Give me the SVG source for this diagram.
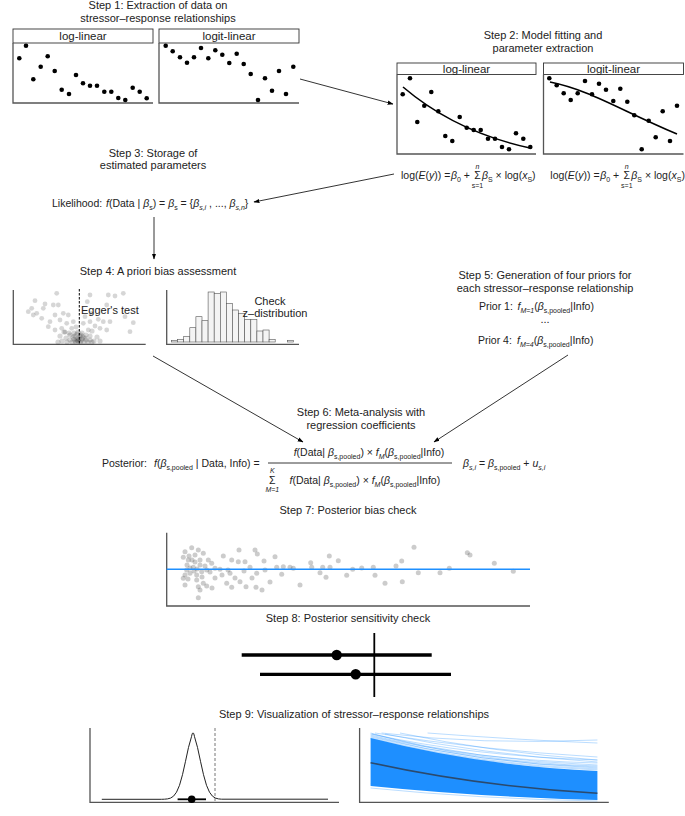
<svg xmlns="http://www.w3.org/2000/svg" width="685" height="816" viewBox="0 0 685 816">
<style>
text{font-family:"Liberation Sans",Arial,sans-serif;fill:#222;}
.t{font-size:11px;text-anchor:middle;}
.h{font-size:11.5px;text-anchor:middle;}
.f{font-size:10.5px;}
.i{font-style:italic;}
.sub{font-size:7px;}
.sm{font-size:7px;text-anchor:middle;}
.ax{stroke:#555;stroke-width:1.3;fill:none;}
.hdr{fill:#fff;stroke:#333;stroke-width:0.9;}
.dot{fill:#000;}
.fit{fill:none;stroke:#000;stroke-width:1.6;}
.con{stroke:#000;stroke-width:0.8;fill:none;marker-end:url(#ah);}
.g1{fill:#8a8a8a;fill-opacity:0.35;}
.g2{fill:#000;fill-opacity:0.16;}
.g7{fill:#555;fill-opacity:0.3;}
.bar{fill:#f4f4f4;stroke:#555;stroke-width:0.6;}
.bl{fill:none;stroke:#1E8FFF;stroke-width:1;stroke-opacity:0.3;}
</style>
<defs>
<marker id="ah" viewBox="0 0 10 10" refX="9" refY="5" markerWidth="6" markerHeight="6" orient="auto" markerUnits="userSpaceOnUse">
<path d="M0,1.5 L10,5 L0,8.5 Z" fill="#000"/>
</marker>
</defs>
<rect width="685" height="816" fill="#fff"/>

<g id="step1">
<text class="t" x="158" y="9">Step 1: Extraction of data on</text>
<text class="t" x="158" y="21.5">stressor–response relationships</text>
<rect class="hdr" x="13" y="29" width="140" height="14"/>
<text class="h" x="83" y="40">log-linear</text>
<path class="ax" d="M13,43 V103 H153"/>
<rect class="hdr" x="159" y="29" width="140" height="14"/>
<text class="h" x="229" y="40">logit-linear</text>
<path class="ax" d="M159,43 V103 H299"/>
<g class="dot">
<circle cx="19.3" cy="58.3" r="2.3"/><circle cx="26" cy="45.7" r="2.3"/><circle cx="33.3" cy="79.3" r="2.3"/><circle cx="40.7" cy="66.7" r="2.3"/><circle cx="47.7" cy="56.3" r="2.3"/><circle cx="54.7" cy="71" r="2.3"/><circle cx="61.7" cy="89.7" r="2.3"/><circle cx="69" cy="94" r="2.3"/><circle cx="76" cy="75" r="2.3"/><circle cx="83" cy="83.3" r="2.3"/><circle cx="90" cy="85.7" r="2.3"/><circle cx="97" cy="85.7" r="2.3"/><circle cx="104.3" cy="91.7" r="2.3"/><circle cx="111.3" cy="91.7" r="2.3"/><circle cx="118.3" cy="98" r="2.3"/><circle cx="125.3" cy="100" r="2.3"/><circle cx="132.7" cy="87.7" r="2.3"/><circle cx="139.7" cy="91.7" r="2.3"/><circle cx="146.7" cy="98.3" r="2.3"/>
<circle cx="165.7" cy="45.7" r="2.3"/><circle cx="172.7" cy="51.3" r="2.3"/><circle cx="180" cy="57.3" r="2.3"/><circle cx="187" cy="62.7" r="2.3"/><circle cx="194" cy="57.3" r="2.3"/><circle cx="201" cy="48" r="2.3"/><circle cx="208.3" cy="58.3" r="2.3"/><circle cx="215.3" cy="50.3" r="2.3"/><circle cx="222.3" cy="54.7" r="2.3"/><circle cx="229.3" cy="63" r="2.3"/><circle cx="236.7" cy="53.7" r="2.3"/><circle cx="243.7" cy="64" r="2.3"/><circle cx="250.7" cy="74" r="2.3"/><circle cx="258" cy="100" r="2.3"/><circle cx="265" cy="78.3" r="2.3"/><circle cx="272" cy="90.7" r="2.3"/><circle cx="279" cy="71" r="2.3"/><circle cx="286" cy="94" r="2.3"/><circle cx="293.3" cy="66.7" r="2.3"/>
</g>
</g>

<g id="step2">
<text class="t" x="543" y="38.5">Step 2: Model fitting and</text>
<text class="t" x="543" y="52">parameter extraction</text>
<rect class="hdr" x="397" y="63" width="139" height="11.5"/>
<text class="h" x="466.5" y="72.5">log-linear</text>
<path class="ax" d="M397,74.5 V154 H536"/>
<rect class="hdr" x="543.5" y="63" width="140" height="11.5"/>
<text class="h" x="613.5" y="72.5">logit-linear</text>
<path class="ax" d="M543.5,74.5 V154 H683.5"/>
<g class="dot">
<circle cx="402.7" cy="94.3" r="2.3"/><circle cx="410" cy="78.3" r="2.3"/><circle cx="417.3" cy="122" r="2.3"/><circle cx="424.3" cy="105.7" r="2.3"/><circle cx="431.3" cy="92" r="2.3"/><circle cx="438.3" cy="111.3" r="2.3"/><circle cx="445.3" cy="136" r="2.3"/><circle cx="452.3" cy="141" r="2.3"/><circle cx="459.7" cy="117" r="2.3"/><circle cx="466.7" cy="127.7" r="2.3"/><circle cx="473.7" cy="130" r="2.3"/><circle cx="480.7" cy="130" r="2.3"/><circle cx="488" cy="138.7" r="2.3"/><circle cx="495" cy="138.7" r="2.3"/><circle cx="502" cy="147" r="2.3"/><circle cx="509" cy="149.3" r="2.3"/><circle cx="516" cy="133.3" r="2.3"/><circle cx="523.3" cy="138.7" r="2.3"/><circle cx="530.3" cy="147" r="2.3"/>
<circle cx="549.3" cy="78.3" r="2.3"/><circle cx="556.7" cy="85.3" r="2.3"/><circle cx="563.7" cy="93.3" r="2.3"/><circle cx="570.7" cy="100" r="2.3"/><circle cx="577.7" cy="93.3" r="2.3"/><circle cx="585" cy="81" r="2.3"/><circle cx="592" cy="94.3" r="2.3"/><circle cx="599" cy="83.7" r="2.3"/><circle cx="606" cy="89.7" r="2.3"/><circle cx="613.3" cy="101" r="2.3"/><circle cx="620.3" cy="88.7" r="2.3"/><circle cx="627.3" cy="101.7" r="2.3"/><circle cx="634.3" cy="115.3" r="2.3"/><circle cx="641.7" cy="149.3" r="2.3"/><circle cx="648.7" cy="120.7" r="2.3"/><circle cx="655.7" cy="137.3" r="2.3"/><circle cx="662.7" cy="111.3" r="2.3"/><circle cx="670" cy="141" r="2.3"/><circle cx="677" cy="105.7" r="2.3"/>
</g>
<path class="fit" d="M403,87 C430,110 470,135 530,148"/>
<path class="fit" d="M550,82 C590,90 620,110 677,134"/>
<text class="f" x="401" y="179">log(<tspan class="i">E</tspan>(<tspan class="i">y</tspan>)) =</text>
<text class="f" x="451" y="179"><tspan class="i">β</tspan><tspan class="sub" dy="2.5">0</tspan><tspan dy="-2.5"> +</tspan></text>
<text class="f" x="477.5" y="179" text-anchor="middle">Σ</text>
<text class="sm i" x="477.5" y="169">n</text>
<text class="sm" x="477.5" y="188">s=1</text>
<text class="f" x="482" y="179"><tspan class="i">β</tspan><tspan class="sub" dy="2.5">S</tspan><tspan dy="-2.5"> × log(</tspan><tspan class="i">x</tspan><tspan class="sub" dy="2.5">S</tspan><tspan dy="-2.5">)</tspan></text>
<text class="f" x="550.3" y="179">log(<tspan class="i">E</tspan>(<tspan class="i">y</tspan>)) =</text>
<text class="f" x="600.3" y="179"><tspan class="i">β</tspan><tspan class="sub" dy="2.5">0</tspan><tspan dy="-2.5"> +</tspan></text>
<text class="f" x="626.8" y="179" text-anchor="middle">Σ</text>
<text class="sm i" x="626.8" y="169">n</text>
<text class="sm" x="626.8" y="188">s=1</text>
<text class="f" x="631.3" y="179"><tspan class="i">β</tspan><tspan class="sub" dy="2.5">S</tspan><tspan dy="-2.5"> × log(</tspan><tspan class="i">x</tspan><tspan class="sub" dy="2.5">S</tspan><tspan dy="-2.5">)</tspan></text>
</g>

<g id="step3">
<text class="t" x="153" y="157">Step 3: Storage of</text>
<text class="t" x="153" y="169">estimated parameters</text>
<text class="f" x="52" y="207">Likelihood:</text>
<text class="f" x="106" y="207"><tspan class="i">f</tspan>(Data | <tspan class="i">β</tspan><tspan class="sub" dy="2.5">s</tspan><tspan dy="-2.5">) = </tspan><tspan class="i">β</tspan><tspan class="sub" dy="2.5">s</tspan><tspan dy="-2.5"> = {</tspan><tspan class="i">β</tspan><tspan class="sub i" dy="2.5">s,i</tspan><tspan dy="-2.5"> , ..., </tspan><tspan class="i">β</tspan><tspan class="sub i" dy="2.5">s,n</tspan><tspan dy="-2.5">}</tspan></text>
</g>

<g id="step4">
<text class="t" x="158" y="274.5">Step 4: A priori bias assessment</text>
<path class="ax" d="M13.3,290 V344.3 H145.7"/>
<g class="g1">
<circle cx="56.7" cy="293.3" r="2.4"/><circle cx="35" cy="300.7" r="2.4"/><circle cx="45" cy="304" r="2.4"/><circle cx="53.3" cy="305" r="2.4"/><circle cx="31.7" cy="308.3" r="2.4"/><circle cx="28.3" cy="311.7" r="2.4"/><circle cx="43.3" cy="308.3" r="2.4"/><circle cx="58.3" cy="305" r="2.4"/><circle cx="33.3" cy="315" r="2.4"/><circle cx="41.7" cy="318.3" r="2.4"/><circle cx="36.7" cy="313.3" r="2.4"/><circle cx="63.3" cy="313.3" r="2.4"/><circle cx="55" cy="315" r="2.4"/><circle cx="68.3" cy="315" r="2.4"/><circle cx="50" cy="321.7" r="2.4"/><circle cx="60" cy="320" r="2.4"/><circle cx="66.7" cy="323.3" r="2.4"/><circle cx="73.3" cy="321.7" r="2.4"/><circle cx="71.7" cy="328.3" r="2.4"/><circle cx="61.7" cy="328.3" r="2.4"/><circle cx="55" cy="330" r="2.4"/><circle cx="48.3" cy="326.7" r="2.4"/><circle cx="90" cy="295" r="2.4"/><circle cx="108.3" cy="295" r="2.4"/><circle cx="115" cy="296" r="2.4"/><circle cx="123.3" cy="293.3" r="2.4"/><circle cx="87.3" cy="301.7" r="2.4"/><circle cx="106.7" cy="305" r="2.4"/><circle cx="91.7" cy="313.3" r="2.4"/><circle cx="85" cy="316.7" r="2.4"/><circle cx="83.3" cy="323.3" r="2.4"/><circle cx="90" cy="321.7" r="2.4"/><circle cx="98.3" cy="319.3" r="2.4"/><circle cx="103.3" cy="321.7" r="2.4"/><circle cx="110" cy="321.7" r="2.4"/><circle cx="100" cy="328.3" r="2.4"/><circle cx="106.7" cy="330" r="2.4"/><circle cx="88.3" cy="330" r="2.4"/><circle cx="125" cy="316.7" r="2.4"/><circle cx="133.3" cy="322.7" r="2.4"/><circle cx="130" cy="331.7" r="2.4"/><circle cx="65" cy="332" r="2.4"/><circle cx="95" cy="326" r="2.4"/><circle cx="76" cy="327" r="2.4"/>
</g>
<g class="g2">
<circle cx="70" cy="335" r="2.6"/><circle cx="74" cy="333" r="2.6"/><circle cx="78" cy="332" r="2.6"/><circle cx="82" cy="333" r="2.6"/><circle cx="86" cy="335" r="2.6"/><circle cx="90" cy="336" r="2.6"/><circle cx="66" cy="338" r="2.6"/><circle cx="70" cy="340" r="2.6"/><circle cx="74" cy="339" r="2.6"/><circle cx="78" cy="338" r="2.6"/><circle cx="82" cy="339" r="2.6"/><circle cx="86" cy="340" r="2.6"/><circle cx="90" cy="340" r="2.6"/><circle cx="94" cy="341" r="2.6"/><circle cx="62" cy="341" r="2.6"/><circle cx="67" cy="342" r="2.6"/><circle cx="72" cy="342" r="2.6"/><circle cx="76" cy="342" r="2.6"/><circle cx="80" cy="342" r="2.6"/><circle cx="84" cy="342" r="2.6"/><circle cx="88" cy="342" r="2.6"/><circle cx="92" cy="342" r="2.6"/><circle cx="75" cy="336" r="2.6"/><circle cx="80" cy="336" r="2.6"/><circle cx="78" cy="341" r="2.6"/><circle cx="73" cy="337" r="2.6"/><circle cx="83" cy="337" r="2.6"/><circle cx="77" cy="334" r="2.6"/><circle cx="81" cy="335" r="2.6"/><circle cx="85" cy="338" r="2.6"/><circle cx="69" cy="333" r="2.6"/><circle cx="92" cy="331" r="2.6"/><circle cx="64" cy="332" r="2.6"/><circle cx="97" cy="337" r="2.6"/><circle cx="60" cy="336" r="2.6"/><circle cx="100" cy="341" r="2.6"/><circle cx="58" cy="342" r="2.6"/><circle cx="77" cy="340" r="2.6"/><circle cx="79" cy="339" r="2.6"/><circle cx="81" cy="341" r="2.6"/><circle cx="75" cy="341" r="2.6"/>
</g>
<line x1="79.3" y1="289" x2="79.3" y2="344" stroke="#000" stroke-width="1" stroke-dasharray="2.5,1.5"/>
<text x="81" y="314" style="font-size:11px">Egger's test</text>
<path class="ax" d="M166.7,290 V344.3 H299"/>
<g>
<rect class="bar" x="171.5" y="340.3" width="6.1" height="1.7"/>
<rect class="bar" x="177.6" y="339.3" width="6.1" height="2.7"/>
<rect class="bar" x="183.7" y="336.3" width="6.1" height="5.7"/>
<rect class="bar" x="189.8" y="327.7" width="6.1" height="14.3"/>
<rect class="bar" x="195.9" y="316.7" width="6.1" height="25.3"/>
<rect class="bar" x="202" y="320.7" width="6.1" height="21.3"/>
<rect class="bar" x="208.1" y="292" width="6.1" height="50"/>
<rect class="bar" x="214.2" y="293.3" width="6.1" height="48.7"/>
<rect class="bar" x="220.3" y="292" width="6.1" height="50"/>
<rect class="bar" x="226.4" y="303.3" width="6.1" height="38.7"/>
<rect class="bar" x="232.5" y="310" width="6.1" height="32"/>
<rect class="bar" x="238.6" y="313.3" width="6.1" height="28.7"/>
<rect class="bar" x="244.7" y="319.3" width="6.1" height="22.7"/>
<rect class="bar" x="250.8" y="319.3" width="6.1" height="22.7"/>
<rect class="bar" x="256.9" y="331" width="6.1" height="11"/>
<rect class="bar" x="263" y="330" width="6.1" height="12"/>
<rect class="bar" x="269.1" y="339.3" width="6.1" height="2.7"/>
<rect class="bar" x="287.4" y="340.3" width="6.1" height="1.7"/>
</g>
<text class="t" x="270" y="304.5">Check</text>
<text class="t" x="275" y="317">z–distribution</text>
</g>

<g id="step5">
<text class="t" x="545" y="279">Step 5: Generation of four priors for</text>
<text class="t" x="545" y="292">each stressor–response relationship</text>
<text class="f" x="479" y="310">Prior 1:</text>
<text class="f" x="517.5" y="310"><tspan class="i">f</tspan><tspan class="sub i" dy="2.5">M=1</tspan><tspan dy="-2.5">(</tspan><tspan class="i">β</tspan><tspan class="sub" dy="2.5">s,pooled</tspan><tspan dy="-2.5">|Info)</tspan></text>
<text class="t" x="545" y="323">...</text>
<text class="f" x="478" y="344">Prior 4:</text>
<text class="f" x="517" y="344"><tspan class="i">f</tspan><tspan class="sub i" dy="2.5">M=4</tspan><tspan dy="-2.5">(</tspan><tspan class="i">β</tspan><tspan class="sub" dy="2.5">s,pooled</tspan><tspan dy="-2.5">|Info)</tspan></text>
</g>

<g id="step6">
<text class="t" x="361" y="416">Step 6: Meta-analysis with</text>
<text class="t" x="361" y="428.5">regression coefficients</text>
<text class="f" x="102" y="467">Posterior:</text>
<text class="f" x="154" y="467"><tspan class="i">f</tspan>(<tspan class="i">β</tspan><tspan class="sub" dy="2.5">s,pooled</tspan><tspan dy="-2.5"> | Data, Info) =</tspan></text>
<text class="f" x="369" y="456" text-anchor="middle"><tspan class="i">f</tspan>(Data| <tspan class="i">β</tspan><tspan class="sub" dy="2.5">s,pooled</tspan><tspan dy="-2.5">) × </tspan><tspan class="i">f</tspan><tspan class="sub i" dy="2.5">M</tspan><tspan dy="-2.5">(</tspan><tspan class="i">β</tspan><tspan class="sub" dy="2.5">s,pooled</tspan><tspan dy="-2.5">|Info)</tspan></text>
<line x1="268" y1="463" x2="452" y2="463" stroke="#222" stroke-width="0.9"/>
<text class="f" x="272.3" y="484" text-anchor="middle">Σ</text>
<text class="sm i" x="272.3" y="473">K</text>
<text class="sm i" x="272.3" y="492">M=1</text>
<text class="f" x="289.5" y="484"><tspan class="i">f</tspan>(Data| <tspan class="i">β</tspan><tspan class="sub" dy="2.5">s,pooled</tspan><tspan dy="-2.5">) × </tspan><tspan class="i">f</tspan><tspan class="sub i" dy="2.5">M</tspan><tspan dy="-2.5">(</tspan><tspan class="i">β</tspan><tspan class="sub" dy="2.5">s,pooled</tspan><tspan dy="-2.5">|Info)</tspan></text>
<text class="f" x="463" y="467"><tspan class="i">β</tspan><tspan class="sub i" dy="2.5">s,i</tspan><tspan dy="-2.5"> = </tspan><tspan class="i">β</tspan><tspan class="sub" dy="2.5">s,pooled</tspan><tspan dy="-2.5"> + </tspan><tspan class="i">u</tspan><tspan class="sub i" dy="2.5">s,i</tspan></text>
</g>

<g id="step7">
<text class="t" x="348" y="514">Step 7: Posterior bias check</text>
<g class="g7">
<circle cx="191.7" cy="547.7" r="2.5"/><circle cx="185" cy="551.7" r="2.5"/><circle cx="183.3" cy="557.3" r="2.5"/><circle cx="188.3" cy="560" r="2.5"/><circle cx="195" cy="555" r="2.5"/><circle cx="198.3" cy="550" r="2.5"/><circle cx="203.3" cy="553.3" r="2.5"/><circle cx="208.3" cy="560" r="2.5"/><circle cx="211.7" cy="563.3" r="2.5"/><circle cx="200" cy="565" r="2.5"/><circle cx="193.3" cy="567.3" r="2.5"/><circle cx="186.7" cy="570" r="2.5"/><circle cx="190" cy="573.3" r="2.5"/><circle cx="196.7" cy="575" r="2.5"/><circle cx="201.7" cy="571.7" r="2.5"/><circle cx="206.7" cy="570" r="2.5"/><circle cx="215" cy="568.3" r="2.5"/><circle cx="220" cy="569.3" r="2.5"/><circle cx="183.3" cy="578.3" r="2.5"/><circle cx="196.7" cy="580" r="2.5"/><circle cx="203.3" cy="583.3" r="2.5"/><circle cx="185" cy="585" r="2.5"/><circle cx="198.3" cy="586.7" r="2.5"/><circle cx="206.7" cy="586" r="2.5"/><circle cx="198.3" cy="597.7" r="2.5"/><circle cx="223.3" cy="556" r="2.5"/><circle cx="231.7" cy="560" r="2.5"/><circle cx="239" cy="550" r="2.5"/><circle cx="238.3" cy="561.7" r="2.5"/><circle cx="245" cy="561.7" r="2.5"/><circle cx="230" cy="573.3" r="2.5"/><circle cx="226.7" cy="583.3" r="2.5"/><circle cx="231.7" cy="587.3" r="2.5"/><circle cx="240" cy="581.7" r="2.5"/><circle cx="246" cy="586.7" r="2.5"/><circle cx="255" cy="550" r="2.5"/><circle cx="257.3" cy="554" r="2.5"/><circle cx="250" cy="567.3" r="2.5"/><circle cx="256.7" cy="573.3" r="2.5"/><circle cx="256" cy="587.3" r="2.5"/><circle cx="264" cy="561" r="2.5"/><circle cx="275" cy="556.7" r="2.5"/><circle cx="276.7" cy="567.3" r="2.5"/><circle cx="281.7" cy="574.3" r="2.5"/><circle cx="283.3" cy="566.7" r="2.5"/><circle cx="290" cy="567.3" r="2.5"/><circle cx="293.3" cy="568.3" r="2.5"/><circle cx="300" cy="585" r="2.5"/><circle cx="310.7" cy="562.7" r="2.5"/><circle cx="311.7" cy="567.3" r="2.5"/><circle cx="320" cy="572.7" r="2.5"/><circle cx="322.7" cy="567.3" r="2.5"/><circle cx="326" cy="577.3" r="2.5"/><circle cx="329.3" cy="556" r="2.5"/><circle cx="330" cy="567.3" r="2.5"/><circle cx="338.3" cy="560.7" r="2.5"/><circle cx="346.7" cy="575.3" r="2.5"/><circle cx="352.7" cy="569.3" r="2.5"/><circle cx="361.7" cy="568" r="2.5"/><circle cx="373.3" cy="567.3" r="2.5"/><circle cx="375" cy="575.3" r="2.5"/><circle cx="385" cy="583.3" r="2.5"/><circle cx="396" cy="566" r="2.5"/><circle cx="401.7" cy="561" r="2.5"/><circle cx="402.3" cy="581.7" r="2.5"/><circle cx="414" cy="547.3" r="2.5"/><circle cx="418.3" cy="572.7" r="2.5"/><circle cx="440" cy="572.7" r="2.5"/><circle cx="449.3" cy="568.3" r="2.5"/><circle cx="467.3" cy="552.7" r="2.5"/><circle cx="470" cy="555" r="2.5"/><circle cx="494.3" cy="563.3" r="2.5"/><circle cx="513.3" cy="571.3" r="2.5"/>
<circle cx="192" cy="560" r="2.5"/><circle cx="187" cy="565" r="2.5"/><circle cx="195" cy="562" r="2.5"/><circle cx="205" cy="566" r="2.5"/><circle cx="190" cy="568" r="2.5"/><circle cx="200" cy="560" r="2.5"/><circle cx="210" cy="572" r="2.5"/><circle cx="185" cy="575" r="2.5"/><circle cx="215" cy="578" r="2.5"/><circle cx="222" cy="575" r="2.5"/><circle cx="235" cy="578" r="2.5"/><circle cx="200" cy="590" r="2.5"/><circle cx="212" cy="588" r="2.5"/><circle cx="228" cy="570" r="2.5"/><circle cx="244" cy="571" r="2.5"/><circle cx="252" cy="578" r="2.5"/><circle cx="265" cy="570" r="2.5"/><circle cx="270" cy="582" r="2.5"/><circle cx="262" cy="590" r="2.5"/><circle cx="197" cy="569" r="2.5"/><circle cx="189" cy="556" r="2.5"/><circle cx="194" cy="571" r="2.5"/><circle cx="188" cy="579" r="2.5"/><circle cx="202" cy="577" r="2.5"/>
</g>
<path class="ax" d="M166.7,532.7 V606 H530"/>
<line x1="166.7" y1="569.3" x2="530" y2="569.3" stroke="#1E8FFF" stroke-width="1.6"/>
</g>

<g id="step8">
<text class="t" x="348" y="622">Step 8: Posterior sensitivity check</text>
<line x1="241.7" y1="655" x2="431.7" y2="655" stroke="#000" stroke-width="3.3"/>
<line x1="260" y1="674.3" x2="451" y2="674.3" stroke="#000" stroke-width="3.3"/>
<circle cx="336.7" cy="655" r="5.2" fill="#000"/>
<circle cx="355.7" cy="674.3" r="5.2" fill="#000"/>
<line x1="374.3" y1="633" x2="374.3" y2="697" stroke="#000" stroke-width="1.8"/>
</g>

<g id="step9">
<text class="t" x="354" y="718">Step 9: Visualization of stressor–response relationships</text>
<path class="ax" d="M90,728 V802.3 H339" stroke="#888"/>
<line x1="215" y1="728" x2="215" y2="802" stroke="#777" stroke-width="1" stroke-dasharray="3,2"/>
<path d="M101.8,799.3 H161.5 L164.5,799.2 L167.5,798.9 L170.5,798.1 L173.5,796.2 L176.5,792.2 L179.5,785.3 L182.5,774.7 L185.5,761.3 L188.5,747.4 L191.5,736.7 L191.5,736.7 C192.5,731.5 193.5,731.5 194.5,736.7 L197.5,747.4 L200.5,761.3 L203.5,774.7 L206.5,785.3 L209.5,792.2 L212.5,796.2 L215.5,798.1 L218.5,798.9 L221.5,799.2 H328" fill="none" stroke="#222" stroke-width="1"/>
<line x1="177.6" y1="799.3" x2="206" y2="799.3" stroke="#000" stroke-width="1.8"/>
<circle cx="191.7" cy="799.3" r="3.8" fill="#000"/>
<path class="ax" d="M359.6,728 V802.3 H608.8" stroke="#888"/>
<path d="M370.6,738 Q480,766 597.4,771 L597.4,800 Q480,797 370.6,786 Z" fill="#1E8FFF"/>
<g>
<path class="bl" d="M370.6,733 Q470,762 597.4,766"/>
<path class="bl" d="M370.6,735 Q470,760 597.4,763"/>
<path class="bl" d="M372,734 Q470,756 597.4,760"/>
<path class="bl" d="M375,733 Q480,750 597.4,757"/>
<path class="bl" d="M370.6,737 Q480,763 597.4,768"/>
<path class="bl" d="M370.6,739 Q480,766 597.4,770"/>
<path class="bl" d="M381.6,733 Q480,745 597.4,740"/>
<path class="bl" d="M427.6,733 Q520,740 597.4,743"/>
<path class="bl" d="M400,733 Q490,752 597.4,760"/>
<path class="bl" d="M370.6,736 Q480,764 597.4,767"/>
<path class="bl" d="M370.6,734 Q480,761 597.4,765"/>
<path class="bl" d="M370.6,738 Q480,765 597.4,769"/>
<path class="bl" d="M370.6,788 Q480,799 597.4,801"/>
<path class="bl" d="M370.6,784 Q480,796 597.4,799"/>
<path class="bl" d="M385,734 Q480,754 597.4,762"/>
</g>
<path d="M370.6,762.7 Q480,786.5 597.4,793.3" fill="none" stroke="#2b4a6e" stroke-width="1.6"/>
</g>

<g id="connectors">
<line class="con" x1="300" y1="79" x2="393" y2="104"/>
<line class="con" x1="394" y1="174" x2="254" y2="202"/>
<line class="con" x1="154" y1="217" x2="154" y2="259"/>
<line class="con" x1="153" y1="356" x2="303" y2="442"/>
<line class="con" x1="568" y1="355" x2="434" y2="442"/>
</g>
</svg>
